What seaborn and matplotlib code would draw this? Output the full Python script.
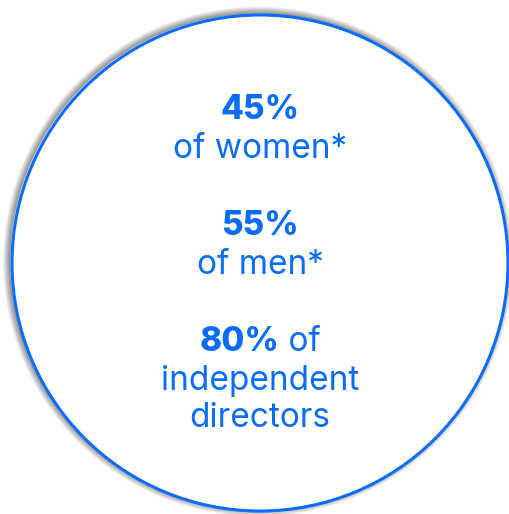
import matplotlib
matplotlib.use('Agg')
import matplotlib.pyplot as plt
import seaborn as sns
from matplotlib.patches import Circle

# chart content
percents = ['45%', '55%', '80%']
captions = ['of women*', 'of men*', 'of']
extra_lines = ['independent', 'directors']

blue = '#0a6cfb'

sns.set_theme(style='white')
plt.rcParams['font.family'] = ['Inter', 'DejaVu Sans']

fig = plt.figure(figsize=(5.10, 5.14), dpi=100)
ax = fig.add_axes([0, 0, 1, 1])
ax.set_xlim(0, 510)
ax.set_ylim(514, 0)
ax.set_aspect('equal')
ax.axis('off')

cx, cy, r = 260, 263, 248

# soft blurred shadow, shifted a little to the upper left
for i in range(9):
    ax.add_patch(Circle((cx - 2, cy - 1.5), r + i * 0.8,
                        facecolor='none', edgecolor='black', lw=1.0,
                        alpha=0.28 * (1 - i / 9)))
ax.add_patch(Circle((cx, cy), r, facecolor='white', edgecolor=blue, lw=2.2, zorder=2))

big = 24
ax.text(cx, 110, percents[0], ha='center', va='center', color=blue,
        fontsize=big, fontweight='heavy', zorder=3)
ax.text(cx, 149, captions[0], ha='center', va='center', color=blue,
        fontsize=big, zorder=3)
ax.text(cx, 226, percents[1], ha='center', va='center', color=blue,
        fontsize=big, fontweight='heavy', zorder=3)
ax.text(cx, 265, captions[1], ha='center', va='center', color=blue,
        fontsize=big, zorder=3)

# mixed bold/regular line
t1 = ax.text(0, 342, percents[2], ha='left', va='center', color=blue,
             fontsize=big, fontweight='heavy', zorder=3)
t2 = ax.text(0, 342, ' ' + captions[2], ha='left', va='center', color=blue,
             fontsize=big, zorder=3)
fig.canvas.draw()
rend = fig.canvas.get_renderer()
w1 = t1.get_window_extent(rend).width
w2 = t2.get_window_extent(rend).width
start = cx - (w1 + w2) / 2
t1.set_x(start)
t2.set_x(start + w1)

ax.text(cx, 381, extra_lines[0], ha='center', va='center', color=blue,
        fontsize=big, zorder=3)
ax.text(cx, 418, extra_lines[1], ha='center', va='center', color=blue,
        fontsize=big, zorder=3)

fig.savefig('out.png', dpi=100, facecolor='white')
